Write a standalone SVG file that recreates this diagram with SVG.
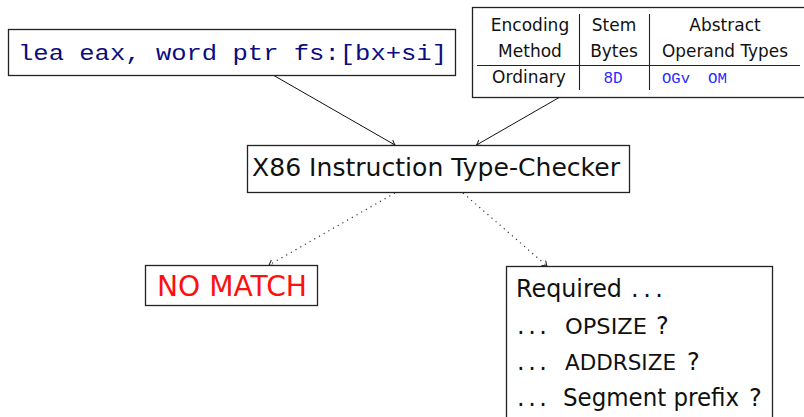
<svg xmlns="http://www.w3.org/2000/svg" width="804" height="417" viewBox="0 0 804 417">
  <style>
    .box { fill: #ffffff; stroke: #222222; stroke-width: 1.3; }
    .rule { stroke: #222222; stroke-width: 1.1; fill: none; }
    .sans { font-family: "DejaVu Sans", "Liberation Sans", sans-serif; fill: #111111; }
    .mono { font-family: "Liberation Mono", "DejaVu Sans Mono", monospace; }
    .hdr { font-size: 17px; text-anchor: middle; }
    .big { font-size: 24px; }
    .caps { font-size: 22px; }
    .code { fill: #0c0c80; font-size: 21.7px; }
    .op { fill: #2a2aff; }
    .edge { stroke: #111111; stroke-width: 1; fill: none; marker-end: url(#tip); }
    .dotted { stroke: #333333; stroke-width: 1.2; stroke-dasharray: 1.2 4.2; fill: none; marker-end: url(#tip); }
  </style>
  <defs>
    <marker id="tip" markerUnits="userSpaceOnUse" markerWidth="12" markerHeight="12" viewBox="-6 -6 12 12" refX="0" refY="0" orient="auto">
      <path d="M -4.5 -3.2 Q -1.2 -0.6 0 0 Q -1.2 0.6 -4.5 3.2" stroke="#111111" stroke-width="0.9" fill="none"/>
    </marker>
  </defs>

  <rect width="804" height="417" fill="#ffffff"/>

  <!-- connectors -->
  <g id="connectors">
    <line class="edge" x1="273" y1="75" x2="395" y2="145"/>
    <line class="edge" x1="560" y1="97" x2="476.5" y2="145"/>
    <line class="dotted" x1="395" y1="193" x2="269" y2="265"/>
    <line class="dotted" x1="463" y1="193" x2="547" y2="266"/>
  </g>

  <!-- assembly instruction -->
  <g id="instruction">
    <rect class="box" x="8.5" y="29.5" width="447" height="46"/>
    <text class="mono code" x="18" y="60" textLength="429" lengthAdjust="spacingAndGlyphs">lea eax, word ptr fs:[bx+si]</text>
  </g>

  <!-- encoding table -->
  <g id="encoding-table">
    <rect class="box" x="472.5" y="7.5" width="345" height="90"/>
    <line class="rule" x1="579.5" y1="14" x2="579.5" y2="90"/>
    <line class="rule" x1="649.5" y1="14" x2="649.5" y2="90"/>
    <line class="rule" x1="477" y1="65.5" x2="800" y2="65.5"/>
    <text class="sans hdr" x="530" y="31">Encoding</text>
    <text class="sans hdr" x="530" y="57">Method</text>
    <text class="sans hdr" x="614" y="31">Stem</text>
    <text class="sans hdr" x="614" y="57">Bytes</text>
    <text class="sans hdr" x="725" y="31">Abstract</text>
    <text class="sans hdr" x="725" y="57" textLength="126" lengthAdjust="spacingAndGlyphs">Operand Types</text>
    <text class="sans hdr" x="529" y="83">Ordinary</text>
    <text class="mono op" x="613" y="83" font-size="16" text-anchor="middle">8D</text>
    <text class="mono op" x="662" y="83" font-size="14" textLength="28" lengthAdjust="spacingAndGlyphs">OGv</text>
    <text class="mono op" x="708" y="83" font-size="14" textLength="19" lengthAdjust="spacingAndGlyphs">OM</text>
  </g>

  <!-- type checker -->
  <g id="checker">
    <rect class="box" x="247.5" y="145.5" width="382" height="47"/>
    <text class="sans big" x="252" y="176" textLength="368" lengthAdjust="spacingAndGlyphs">X86 Instruction Type-Checker</text>
  </g>

  <!-- failure outcome -->
  <g id="no-match">
    <rect class="box" x="145.5" y="265.5" width="172" height="40"/>
    <text class="sans" x="157" y="296" font-size="28" style="fill:#ff1010" textLength="150" lengthAdjust="spacingAndGlyphs">NO MATCH</text>
  </g>

  <!-- required prefixes -->
  <g id="required">
    <rect class="box" x="506.5" y="266.5" width="266" height="160"/>
    <text class="sans big" x="516" y="297"><tspan textLength="106" lengthAdjust="spacingAndGlyphs">Required</tspan><tspan x="631" textLength="32" lengthAdjust="spacing">. . .</tspan></text>
    <text class="sans big" x="517" y="334"><tspan textLength="30" lengthAdjust="spacing">. . .</tspan><tspan class="caps" x="565" textLength="82" lengthAdjust="spacingAndGlyphs">OPSIZE</tspan><tspan x="656">?</tspan></text>
    <text class="sans big" x="517" y="370"><tspan textLength="30" lengthAdjust="spacing">. . .</tspan><tspan class="caps" x="565" textLength="111" lengthAdjust="spacingAndGlyphs">ADDRSIZE</tspan><tspan x="687">?</tspan></text>
    <text class="sans big" x="517" y="406"><tspan textLength="30" lengthAdjust="spacing">. . .</tspan><tspan x="563" textLength="176" lengthAdjust="spacingAndGlyphs">Segment prefix</tspan><tspan x="749">?</tspan></text>
  </g>
</svg>
